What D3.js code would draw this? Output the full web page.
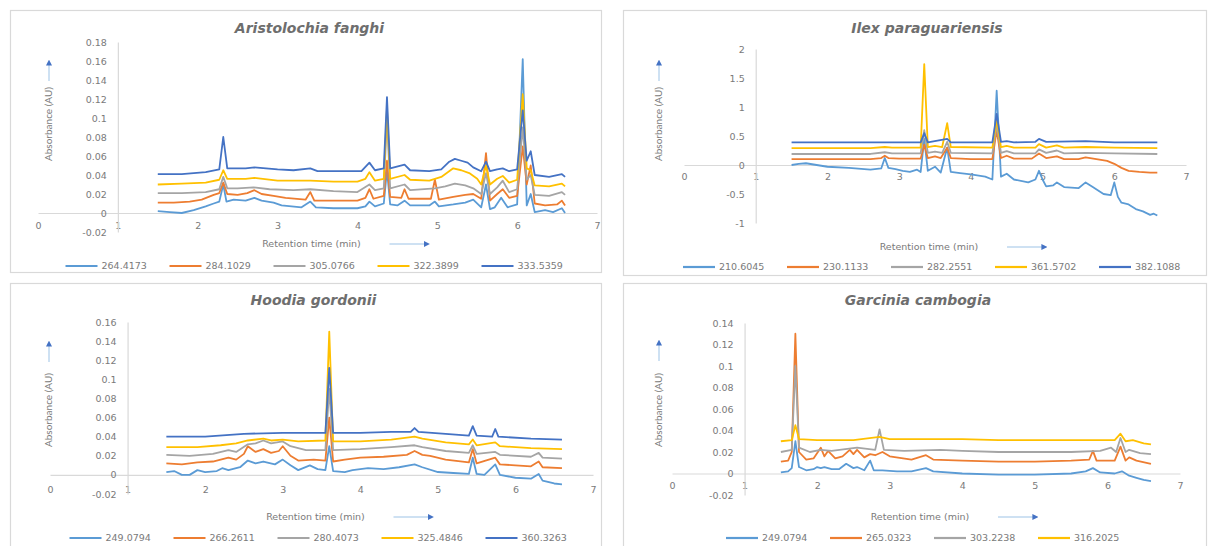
<!DOCTYPE html>
<html>
<head>
<meta charset="utf-8">
<script src="https://cdnjs.cloudflare.com/ajax/libs/d3/7.8.5/d3.min.js"></script>
<style>
  body { margin: 0; background: #fff; }
  svg text { font-family: "DejaVu Sans", sans-serif; fill: #7a7a7a; }
  .frame { fill: none; stroke: #d9d9d9; stroke-width: 1.2; }
  .axis path { stroke: #d9d9d9; stroke-width: 1.2; }
  .trace { fill: none; stroke-width: 1.8; stroke-linejoin: round; }
  .title { font-style: italic; font-weight: 700; font-size: 14px; fill: #6e6e6e; }
  .ytitle { font-family: Lato, sans-serif; font-size: 10px; }
</style>
</head>
<body>
<div id="viz"></div>
<script>
/*
  Four UV chromatograms, one per plant.
*/

// series colours (Excel default order)
var colors = ["#5B9BD5", "#ED7D31", "#A5A5A5", "#FFC000", "#4472C4"];

var titles = ["Aristolochia fanghi", "Ilex paraguariensis", "Hoodia gordonii", "Garcinia cambogia"];
var xTicks = [0, 1, 2, 3, 4, 5, 6, 7];

// ---- Aristolochia fanghi ----
var aristoNames = ["264.4173", "284.1029", "305.0766", "322.3899", "333.5359"];
var aristoTicks = [0.18, 0.16, 0.14, 0.12, 0.1, 0.08, 0.06, 0.04, 0.02, 0, -0.02];
var aristo264 = [[1.5,0.002],[1.65,0.001],[1.8,0.0],[1.95,0.003],[2.1,0.007],[2.2,0.01],[2.27,0.012],[2.32,0.03],[2.36,0.012],[2.45,0.014],[2.6,0.013],[2.71,0.016],[2.8,0.013],[2.95,0.011],[3.05,0.008],[3.3,0.006],[3.41,0.012],[3.48,0.006],[3.7,0.005],[4.0,0.005],[4.1,0.007],[4.15,0.012],[4.22,0.007],[4.33,0.01],[4.37,0.045],[4.41,0.009],[4.5,0.008],[4.59,0.013],[4.66,0.008],[4.9,0.008],[4.97,0.012],[5.02,0.007],[5.2,0.009],[5.35,0.011],[5.45,0.014],[5.55,0.006],[5.61,0.03],[5.66,0.004],[5.72,0.006],[5.8,0.016],[5.88,0.006],[6.0,0.009],[6.07,0.162],[6.12,0.008],[6.17,0.02],[6.22,0.001],[6.35,0.003],[6.45,0.001],[6.56,0.005],[6.6,0.0]];
var aristo284 = [[1.5,0.011],[1.7,0.011],[1.9,0.012],[2.05,0.014],[2.2,0.019],[2.27,0.021],[2.32,0.032],[2.37,0.02],[2.5,0.019],[2.62,0.021],[2.71,0.024],[2.8,0.02],[2.95,0.018],[3.1,0.016],[3.35,0.014],[3.41,0.022],[3.46,0.013],[3.7,0.013],[4.0,0.013],[4.1,0.016],[4.15,0.025],[4.2,0.015],[4.33,0.018],[4.37,0.055],[4.41,0.017],[4.55,0.016],[4.59,0.025],[4.64,0.015],[4.92,0.015],[4.97,0.035],[5.02,0.014],[5.2,0.017],[5.35,0.019],[5.45,0.02],[5.55,0.015],[5.61,0.063],[5.66,0.013],[5.75,0.02],[5.82,0.025],[5.9,0.016],[6.0,0.018],[6.07,0.07],[6.12,0.03],[6.17,0.05],[6.22,0.01],[6.35,0.008],[6.5,0.009],[6.56,0.013],[6.6,0.008]];
var aristo305 = [[1.5,0.021],[1.8,0.021],[2.1,0.022],[2.27,0.025],[2.32,0.038],[2.37,0.026],[2.5,0.026],[2.7,0.027],[2.9,0.025],[3.2,0.024],[3.41,0.025],[3.7,0.023],[4.0,0.022],[4.15,0.03],[4.22,0.024],[4.33,0.026],[4.37,0.1],[4.41,0.026],[4.59,0.03],[4.66,0.024],[4.97,0.026],[5.1,0.028],[5.22,0.031],[5.35,0.029],[5.45,0.026],[5.55,0.02],[5.61,0.042],[5.66,0.02],[5.75,0.027],[5.82,0.034],[5.9,0.022],[6.0,0.025],[6.07,0.09],[6.12,0.035],[6.17,0.04],[6.22,0.019],[6.4,0.018],[6.56,0.022],[6.6,0.019]];
var aristo322 = [[1.5,0.03],[1.8,0.031],[2.1,0.032],[2.27,0.035],[2.32,0.045],[2.37,0.036],[2.6,0.036],[2.71,0.037],[3.0,0.034],[3.41,0.034],[3.7,0.033],[4.0,0.033],[4.1,0.036],[4.15,0.043],[4.22,0.034],[4.33,0.036],[4.37,0.11],[4.41,0.036],[4.59,0.04],[4.66,0.035],[4.9,0.034],[5.05,0.038],[5.2,0.047],[5.3,0.045],[5.4,0.042],[5.5,0.036],[5.55,0.03],[5.61,0.05],[5.66,0.03],[5.75,0.036],[5.82,0.039],[5.9,0.032],[6.0,0.035],[6.07,0.125],[6.12,0.047],[6.17,0.045],[6.22,0.029],[6.4,0.028],[6.56,0.031],[6.6,0.028]];
var aristo333 = [[1.5,0.041],[1.8,0.041],[2.1,0.043],[2.27,0.046],[2.32,0.08],[2.37,0.047],[2.6,0.047],[2.71,0.048],[3.0,0.046],[3.2,0.045],[3.41,0.047],[3.5,0.044],[3.8,0.044],[4.05,0.044],[4.15,0.053],[4.22,0.045],[4.33,0.047],[4.37,0.122],[4.41,0.047],[4.59,0.051],[4.66,0.045],[4.9,0.044],[5.05,0.046],[5.15,0.054],[5.22,0.057],[5.3,0.055],[5.38,0.053],[5.45,0.048],[5.55,0.044],[5.61,0.054],[5.66,0.044],[5.75,0.046],[5.82,0.047],[5.9,0.044],[6.0,0.046],[6.07,0.108],[6.12,0.055],[6.17,0.065],[6.22,0.04],[6.4,0.038],[6.56,0.041],[6.6,0.038]];

// ---- Ilex paraguariensis ----
var ilexNames = ["210.6045", "230.1133", "282.2551", "361.5702", "382.1088"];
var ilexTicks = [2, 1.5, 1, 0.5, 0, -0.5, -1];
var ilex210 = [[1.5,0.0],[1.6,0.02],[1.7,0.03],[1.85,0.0],[2.0,-0.03],[2.3,-0.05],[2.6,-0.08],[2.75,-0.06],[2.8,0.12],[2.85,-0.05],[2.95,-0.07],[3.05,-0.1],[3.15,-0.12],[3.25,-0.08],[3.3,-0.12],[3.35,0.45],[3.4,-0.1],[3.5,-0.03],[3.58,-0.13],[3.67,0.3],[3.72,-0.12],[3.85,-0.14],[4.0,-0.16],[4.2,-0.2],[4.3,-0.25],[4.36,1.28],[4.42,-0.2],[4.5,-0.15],[4.6,-0.25],[4.8,-0.3],[4.9,-0.25],[4.95,-0.1],[5.0,-0.25],[5.05,-0.37],[5.15,-0.35],[5.2,-0.3],[5.3,-0.38],[5.5,-0.4],[5.6,-0.3],[5.7,-0.38],[5.85,-0.5],[5.95,-0.52],[6.0,-0.3],[6.05,-0.55],[6.1,-0.65],[6.2,-0.68],[6.3,-0.76],[6.4,-0.8],[6.5,-0.86],[6.55,-0.84],[6.6,-0.87]];
var ilex230 = [[1.5,0.1],[1.8,0.1],[2.2,0.1],[2.6,0.1],[2.75,0.12],[2.8,0.16],[2.85,0.12],[3.0,0.11],[3.3,0.11],[3.35,0.35],[3.4,0.12],[3.5,0.15],[3.58,0.12],[3.67,0.3],[3.72,0.12],[4.0,0.1],[4.3,0.1],[4.36,0.6],[4.42,0.12],[4.5,0.16],[4.6,0.11],[4.85,0.11],[4.95,0.2],[5.05,0.12],[5.2,0.15],[5.3,0.1],[5.5,0.1],[5.6,0.13],[5.75,0.1],[5.9,0.07],[6.0,0.02],[6.1,-0.05],[6.2,-0.1],[6.35,-0.12],[6.5,-0.13],[6.6,-0.13]];
var ilex282 = [[1.5,0.19],[2.0,0.19],[2.6,0.19],[2.8,0.22],[2.9,0.2],[3.3,0.2],[3.35,0.6],[3.4,0.21],[3.5,0.23],[3.6,0.21],[3.67,0.4],[3.72,0.21],[4.3,0.2],[4.36,0.7],[4.42,0.21],[4.5,0.24],[4.6,0.2],[4.9,0.2],[4.95,0.27],[5.05,0.21],[5.2,0.25],[5.3,0.2],[5.6,0.21],[6.0,0.2],[6.6,0.19]];
var ilex361 = [[1.5,0.29],[2.0,0.29],[2.6,0.29],[2.8,0.31],[2.9,0.3],[3.3,0.3],[3.35,1.74],[3.4,0.31],[3.5,0.33],[3.6,0.31],[3.67,0.72],[3.72,0.31],[4.3,0.3],[4.36,0.78],[4.42,0.31],[4.5,0.33],[4.6,0.3],[4.9,0.3],[4.95,0.36],[5.05,0.3],[5.2,0.34],[5.3,0.3],[5.6,0.31],[6.0,0.3],[6.6,0.29]];
var ilex382 = [[1.5,0.39],[2.0,0.39],[2.8,0.39],[3.3,0.39],[3.35,0.55],[3.4,0.39],[3.67,0.45],[3.72,0.39],[4.3,0.39],[4.36,0.88],[4.42,0.4],[4.5,0.41],[4.6,0.39],[4.9,0.4],[4.95,0.45],[5.05,0.4],[5.6,0.41],[6.0,0.39],[6.6,0.39]];

// ---- Hoodia gordonii ----
var hoodiaNames = ["249.0794", "266.2611", "280.4073", "325.4846", "360.3263"];
var hoodiaTicks = [0.16, 0.14, 0.12, 0.1, 0.08, 0.06, 0.04, 0.02, 0, -0.02];
var hoodia249 = [[1.5,0.003],[1.6,0.004],[1.7,0.0],[1.8,0.0],[1.9,0.005],[2.0,0.003],[2.15,0.004],[2.22,0.007],[2.3,0.005],[2.45,0.008],[2.55,0.015],[2.65,0.012],[2.75,0.014],[2.9,0.011],[3.0,0.016],[3.1,0.01],[3.2,0.005],[3.35,0.01],[3.45,0.006],[3.55,0.005],[3.6,0.03],[3.65,0.004],[3.8,0.003],[3.9,0.005],[4.1,0.007],[4.3,0.006],[4.5,0.008],[4.7,0.011],[4.8,0.008],[5.0,0.003],[5.2,0.002],[5.4,0.001],[5.45,0.018],[5.5,0.001],[5.6,0.0],[5.74,0.011],[5.8,0.0],[6.0,-0.003],[6.2,-0.004],[6.3,0.001],[6.35,-0.006],[6.5,-0.009],[6.6,-0.01]];
var hoodia266 = [[1.5,0.012],[1.7,0.011],[1.9,0.013],[2.1,0.014],[2.3,0.018],[2.4,0.016],[2.5,0.022],[2.55,0.03],[2.65,0.024],[2.75,0.027],[2.85,0.023],[2.95,0.025],[3.0,0.03],[3.1,0.02],[3.2,0.015],[3.4,0.016],[3.55,0.015],[3.6,0.06],[3.65,0.014],[3.8,0.016],[4.0,0.018],[4.3,0.019],[4.6,0.021],[4.7,0.025],[4.8,0.021],[4.9,0.02],[5.1,0.016],[5.4,0.013],[5.45,0.027],[5.5,0.012],[5.74,0.018],[5.8,0.011],[6.0,0.01],[6.2,0.009],[6.3,0.014],[6.35,0.008],[6.6,0.007]];
var hoodia280 = [[1.5,0.021],[1.8,0.02],[2.1,0.022],[2.3,0.026],[2.4,0.024],[2.55,0.032],[2.65,0.033],[2.75,0.036],[2.85,0.033],[3.0,0.035],[3.1,0.03],[3.3,0.026],[3.55,0.026],[3.6,0.09],[3.65,0.026],[4.0,0.027],[4.4,0.029],[4.7,0.031],[4.8,0.029],[5.1,0.025],[5.4,0.023],[5.45,0.031],[5.5,0.022],[5.74,0.024],[5.8,0.021],[6.2,0.019],[6.3,0.023],[6.35,0.018],[6.6,0.017]];
var hoodia325 = [[1.5,0.029],[1.9,0.029],[2.2,0.031],[2.4,0.033],[2.55,0.036],[2.75,0.038],[2.85,0.036],[3.0,0.037],[3.2,0.035],[3.55,0.036],[3.6,0.15],[3.65,0.035],[4.0,0.035],[4.4,0.037],[4.7,0.04],[4.8,0.038],[5.1,0.034],[5.4,0.032],[5.45,0.037],[5.5,0.031],[5.74,0.034],[5.8,0.03],[6.2,0.028],[6.6,0.027]];
var hoodia360 = [[1.5,0.04],[2.0,0.04],[2.5,0.043],[3.0,0.044],[3.4,0.044],[3.55,0.044],[3.6,0.112],[3.65,0.044],[4.0,0.044],[4.4,0.045],[4.65,0.045],[4.7,0.049],[4.75,0.045],[5.1,0.043],[5.4,0.041],[5.45,0.051],[5.5,0.041],[5.7,0.04],[5.74,0.048],[5.78,0.04],[6.2,0.038],[6.6,0.037]];

// ---- Garcinia cambogia ----
var garciniaNames = ["249.0794", "265.0323", "303.2238", "316.2025"];
var garciniaTicks = [0.14, 0.12, 0.1, 0.08, 0.06, 0.04, 0.02, 0, -0.02];
var garcinia249 = [[1.5,0.001],[1.6,0.002],[1.65,0.005],[1.7,0.03],[1.75,0.006],[1.85,0.003],[1.95,0.004],[2.0,0.006],[2.05,0.005],[2.1,0.006],[2.2,0.004],[2.3,0.004],[2.4,0.009],[2.5,0.005],[2.55,0.006],[2.65,0.003],[2.73,0.012],[2.78,0.003],[2.9,0.003],[3.1,0.002],[3.3,0.002],[3.5,0.005],[3.6,0.002],[4.0,0.0],[4.5,-0.001],[5.0,-0.001],[5.5,0.0],[5.7,0.002],[5.8,0.005],[5.9,0.001],[6.1,0.0],[6.2,0.002],[6.3,-0.002],[6.4,-0.004],[6.5,-0.006],[6.6,-0.007]];
var garcinia265 = [[1.5,0.011],[1.6,0.012],[1.65,0.02],[1.7,0.13],[1.75,0.02],[1.85,0.013],[1.95,0.014],[2.05,0.024],[2.1,0.016],[2.15,0.021],[2.25,0.014],[2.35,0.016],[2.45,0.022],[2.5,0.018],[2.55,0.022],[2.65,0.015],[2.73,0.018],[2.8,0.017],[2.9,0.02],[3.0,0.016],[3.3,0.013],[3.5,0.017],[3.6,0.013],[4.0,0.012],[4.5,0.011],[5.0,0.011],[5.5,0.012],[5.75,0.013],[5.8,0.021],[5.85,0.012],[6.1,0.012],[6.18,0.025],[6.25,0.012],[6.3,0.015],[6.4,0.012],[6.6,0.009]];
var garcinia303 = [[1.5,0.02],[1.65,0.022],[1.7,0.1],[1.75,0.024],[1.9,0.02],[2.05,0.022],[2.2,0.021],[2.55,0.024],[2.8,0.022],[2.86,0.041],[2.92,0.022],[3.2,0.021],[3.7,0.022],[4.0,0.021],[4.5,0.02],[5.0,0.02],[5.5,0.02],[5.9,0.021],[6.05,0.024],[6.12,0.02],[6.18,0.033],[6.25,0.02],[6.3,0.022],[6.45,0.019],[6.6,0.018]];
var garcinia316 = [[1.5,0.03],[1.65,0.031],[1.7,0.045],[1.75,0.032],[2.0,0.031],[2.5,0.031],[2.86,0.034],[3.0,0.032],[3.5,0.032],[4.0,0.032],[4.5,0.031],[5.0,0.031],[5.5,0.031],[6.1,0.031],[6.18,0.037],[6.25,0.03],[6.35,0.031],[6.5,0.028],[6.6,0.027]];

// Where each panel sits on the page
var layout = [
  {box: [10, 10, 591, 262], xRange: [38, 597], yRange: [232, 42], xPad: 9, titleY: 33, xTitleY: 247, legendY: 266, yTitleX: 49, arrowTop: 59, yTitleCY: 124},
  {box: [623, 10, 583, 265], xRange: [684, 1186], yRange: [223, 49], xPad: 8, titleY: 33, xTitleY: 250, legendY: 267, yTitleX: 659, arrowTop: 59, yTitleCY: 124},
  {box: [10, 283, 591, 275], xRange: [50, 593], yRange: [494, 322], xPad: 11, titleY: 305, xTitleY: 520, legendY: 538, yTitleX: 49, arrowTop: 340, yTitleCY: 410},
  {box: [623, 283, 583, 275], xRange: [672, 1180], yRange: [495, 323], xPad: 9, titleY: 305, xTitleY: 520, legendY: 538, yTitleX: 659, arrowTop: 339, yTitleCY: 410}
];

var panels = [
  {names: aristoNames, ticks: aristoTicks, series: [aristo264, aristo284, aristo305, aristo322, aristo333]},
  {names: ilexNames, ticks: ilexTicks, series: [ilex210, ilex230, ilex282, ilex361, ilex382]},
  {names: hoodiaNames, ticks: hoodiaTicks, series: [hoodia249, hoodia266, hoodia280, hoodia325, hoodia360]},
  {names: garciniaNames, ticks: garciniaTicks, series: [garcinia249, garcinia265, garcinia303, garcinia316]}
];

var width = 1213, height = 546;

var svg = d3.select("#viz")
    .append("svg")
    .attr("width", width)
    .attr("height", height);

// arrow head used by both axis-title arrows
svg.append("defs").append("marker")
    .attr("id", "arrow")
    .attr("viewBox", "0 0 10 10")
    .attr("refX", 6).attr("refY", 5)
    .attr("markerWidth", 6).attr("markerHeight", 6)
    .attr("orient", "auto")
  .append("path")
    .attr("d", "M0,0L10,5L0,10z")
    .attr("fill", "#4472C4");

var fmt = function(d) { return String(+d.toFixed(2)); };

panels.forEach(function(p, k) {
  var L = layout[k];
  var g = svg.append("g");

  g.append("rect")
      .attr("class", "frame")
      .attr("x", L.box[0] + 0.5).attr("y", L.box[1] + 0.5)
      .attr("width", L.box[2]).attr("height", L.box[3]);

  var yDom = [p.ticks[p.ticks.length - 1], p.ticks[0]];
  var x = d3.scaleLinear().domain([0, 7]).range(L.xRange);
  var y = d3.scaleLinear().domain(yDom).range(L.yRange);

  // horizontal axis crosses at y = 0, vertical axis at x = 1
  g.append("g").attr("class", "axis")
      .attr("transform", "translate(0," + y(0) + ")")
      .call(d3.axisBottom(x).tickValues(xTicks).tickSize(0).tickPadding(L.xPad).tickFormat(fmt));
  g.append("g").attr("class", "axis")
      .attr("transform", "translate(" + x(1) + ",0)")
      .call(d3.axisLeft(y).tickValues(p.ticks).tickSize(0).tickPadding(11).tickFormat(fmt));
  g.selectAll(".axis").attr("font-family", null).attr("font-size", null);
  g.selectAll(".axis text").style("font-size", "9.5px");

  // the chromatograms, first series at the back
  var line = d3.line()
      .x(function(d) { return x(d[0]); })
      .y(function(d) { return y(d[1]); });
  g.selectAll(".trace")
      .data(p.series)
    .enter().append("path")
      .attr("class", "trace")
      .attr("d", line)
      .attr("stroke", function(d, i) { return colors[i]; });

  var cx = (L.xRange[0] + L.xRange[1]) / 2;

  g.append("text")
      .attr("class", "title")
      .attr("x", cx - 8).attr("y", L.titleY)
      .attr("text-anchor", "middle")
      .text(titles[k]);

  // x title with its arrow
  g.append("text")
      .attr("x", cx - 6).attr("y", L.xTitleY)
      .attr("text-anchor", "middle")
      .style("font-size", "9.5px")
      .text("Retention time (min)");
  g.append("line")
      .attr("x1", cx + 72).attr("x2", cx + 110)
      .attr("y1", L.xTitleY - 3).attr("y2", L.xTitleY - 3)
      .attr("stroke", "#9DC3E6").attr("stroke-width", 1)
      .attr("marker-end", "url(#arrow)");

  // y title with its arrow
  g.append("text")
      .attr("class", "ytitle")
      .attr("transform", "translate(" + (L.yTitleX + 3) + "," + L.yTitleCY + ") rotate(-90)")
      .attr("text-anchor", "middle")
      .text("Absorbance (AU)");
  g.append("line")
      .attr("x1", L.yTitleX).attr("x2", L.yTitleX)
      .attr("y1", L.arrowTop + 22).attr("y2", L.arrowTop + 3)
      .attr("stroke", "#9DC3E6").attr("stroke-width", 1)
      .attr("marker-end", "url(#arrow)");

  // legend
  var pitch = 104;
  var lx0 = cx - (p.names.length * pitch - 16) / 2;
  var item = g.selectAll(".legend")
      .data(p.names)
    .enter().append("g")
      .attr("class", "legend")
      .attr("transform", function(d, i) { return "translate(" + (lx0 + i * pitch) + "," + L.legendY + ")"; });
  item.append("line")
      .attr("x1", 0).attr("x2", 32)
      .attr("stroke", function(d, i) { return colors[i]; })
      .attr("stroke-width", 2.2);
  item.append("text")
      .attr("x", 36).attr("dy", "0.35em")
      .style("font-size", "9.5px")
      .text(function(d) { return d; });
});
</script>
</body>
</html>
